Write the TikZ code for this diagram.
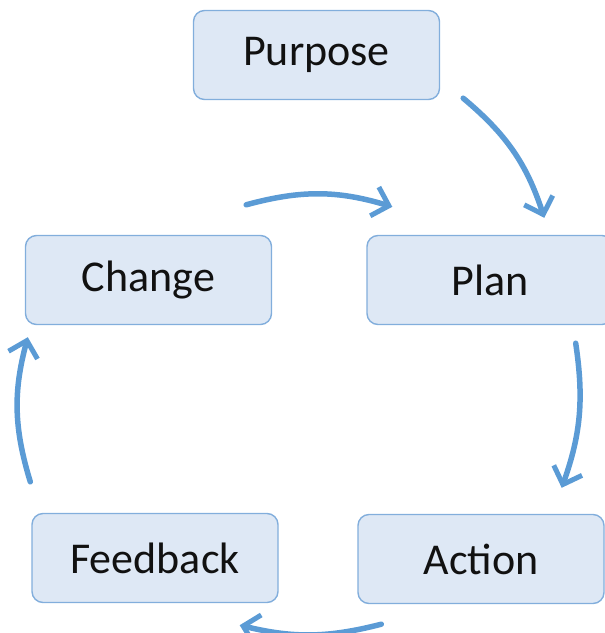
\documentclass[tikz,border=0pt]{standalone}
\usepackage{fontspec}
\setmainfont{Carlito}
\usetikzlibrary{arrows.meta}
\definecolor{boxfill}{HTML}{DEE8F5}
\definecolor{boxline}{HTML}{82AEDC}
\definecolor{flow}{HTML}{5B9BD5}
\definecolor{ink}{HTML}{111111}
\begin{document}
\begin{tikzpicture}[x=1pt,y=-1pt,
  stage/.style={draw=boxline, line width=1.4pt, fill=boxfill, rounded corners=11pt,
    minimum width=246pt, minimum height=89pt, inner sep=0pt, text=ink,
    font=\fontsize{44}{52}\selectfont},
  flowarrow/.style={draw=flow, line width=5.5pt, line cap=round,
    -{Straight Barb[length=15pt,width=30pt,line width=5pt]}}]
  \useasboundingbox (0,0) rectangle (605,633);
  % the five stages of the cycle
  \node[stage] (purpose)  at (316.5,55)  {Purpose};
  \node[stage] (change)   at (148.5,280) {Change};
  \node[stage] (plan)     at (490,280)   {Plan};
  \node[stage] (feedback) at (155,558)   {Feedback};
  \node[stage] (action)   at (481,559)   {Action};
  % arrow end points between the stages
  \coordinate (p1) at ([shift={(23,-2)}]purpose.south east);
  \coordinate (p2) at ([shift={(178,-17)}]plan.north west);
  \coordinate (c1) at ([shift={(-26,-30)}]change.north east);
  \coordinate (c2) at ([shift={(26,-28)}]plan.north west);
  \coordinate (a1) at ([shift={(-38,18)}]plan.south east);
  \coordinate (a2) at ([shift={(-43,-26)}]action.north east);
  \coordinate (f1) at ([shift={(24,20)}]action.south west);
  \coordinate (f2) at ([shift={(-39,22)}]feedback.south east);
  \coordinate (k1) at ([shift={(-1,-31)}]feedback.north west);
  \coordinate (k2) at ([shift={(3,12)}]change.south west);
  % the cycle
  \draw[flowarrow] (p1) to[bend left=16] (p2);
  \draw[flowarrow] (c1) to[bend left=16] (c2);
  \draw[flowarrow] (a1) to[bend left=14] (a2);
  \draw[flowarrow] (f1) to[bend left=14] (f2);
  \draw[flowarrow] (k1) to[bend left=16] (k2);
\end{tikzpicture}
\end{document}
